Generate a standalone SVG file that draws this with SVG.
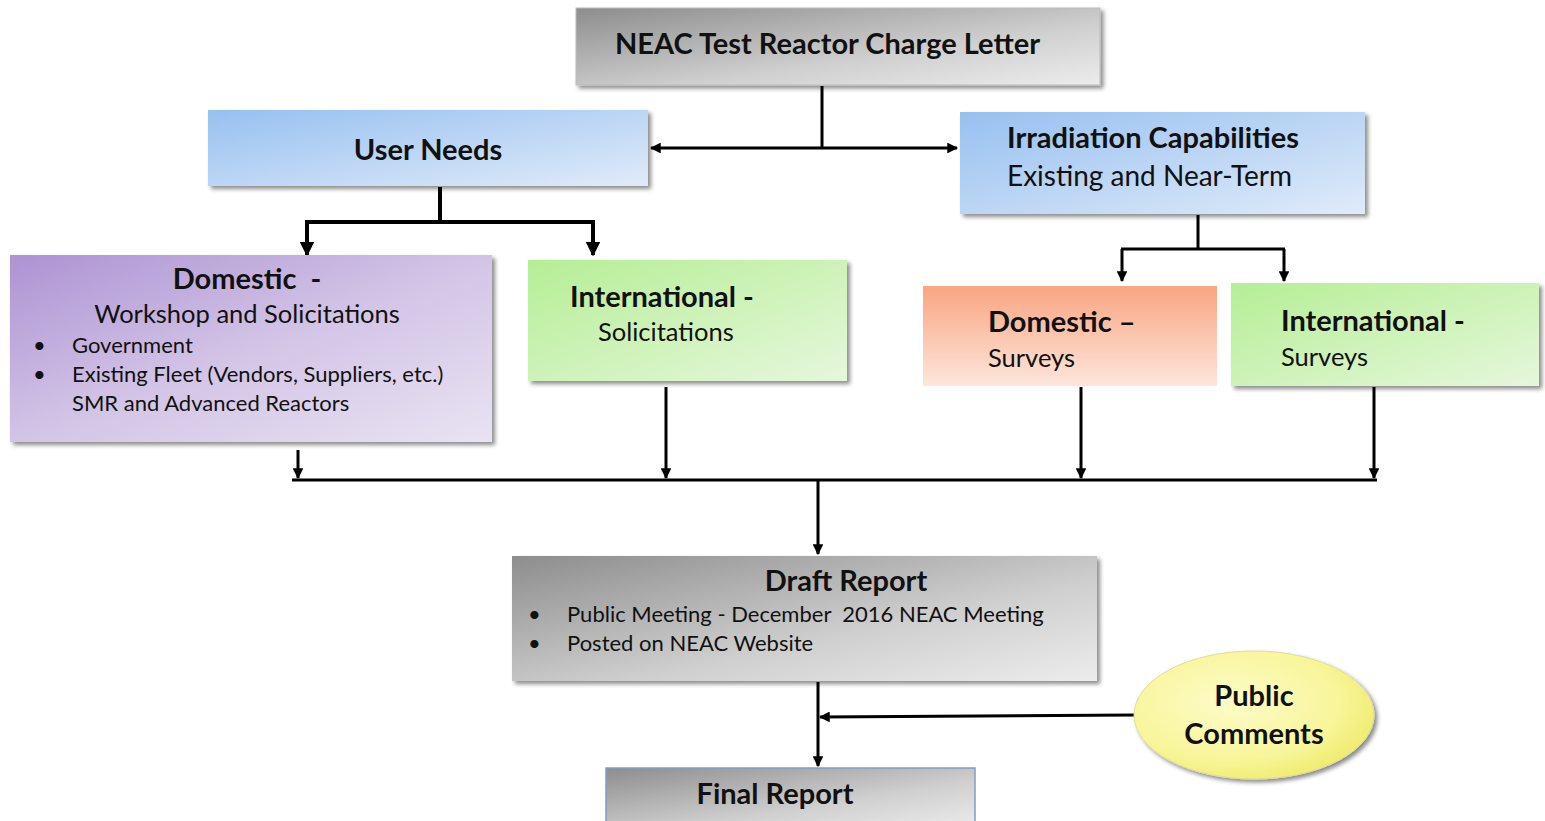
<svg xmlns="http://www.w3.org/2000/svg" width="1545" height="821" viewBox="0 0 1545 821">
<defs>
<linearGradient id="gGray" x1="0" y1="0" x2="1" y2="1"><stop offset="0" stop-color="#8d8d8d"/><stop offset="0.6" stop-color="#cfcfcf"/><stop offset="1" stop-color="#ececec"/></linearGradient>
<linearGradient id="gBlue" x1="0" y1="0" x2="1" y2="1"><stop offset="0" stop-color="#97c0f0"/><stop offset="1" stop-color="#e0ebf9"/></linearGradient>
<linearGradient id="gPurple" x1="0" y1="0" x2="1" y2="1"><stop offset="0" stop-color="#ad92d3"/><stop offset="0.5" stop-color="#d2c4e6"/><stop offset="1" stop-color="#e9e3f2"/></linearGradient>
<linearGradient id="gGreen" x1="0" y1="0" x2="1" y2="1"><stop offset="0" stop-color="#b5ee95"/><stop offset="1" stop-color="#e6f7dc"/></linearGradient>
<linearGradient id="gOrange" x1="0" y1="0" x2="0" y2="1"><stop offset="0" stop-color="#f9a582"/><stop offset="1" stop-color="#fde6dc"/></linearGradient>
<radialGradient id="gYellow" cx="0.4" cy="0.4" r="0.65"><stop offset="0" stop-color="#fdfcc8"/><stop offset="0.7" stop-color="#f8f59a"/><stop offset="1" stop-color="#efec6c"/></radialGradient>
<filter id="sh" x="-10%" y="-10%" width="125%" height="130%"><feDropShadow dx="3" dy="3" stdDeviation="2" flood-color="#000" flood-opacity="0.45"/></filter>
<marker id="ah" viewBox="0 0 10 10" refX="9" refY="5" markerWidth="3.6" markerHeight="3.6" orient="auto-start-reverse"><path d="M0,0 L10,5 L0,10 z" fill="#000"/></marker>
</defs>
<style>
.t{font-family:Lato,"Open Sans","Liberation Sans",sans-serif;fill:#111}
.b{font-weight:bold}
.big{font-size:29px}
.med{font-size:25.5px}
.sm{font-size:22px}
.ln{fill:none;stroke:#000;stroke-width:3}
.lnt{fill:none;stroke:#000;stroke-width:4}
</style>
<g id="connectors">
<path class="ln" d="M822,86 V148"/>
<path class="ln" d="M822,148 H651" marker-end="url(#ah)"/>
<path class="ln" d="M822,148 H957" marker-end="url(#ah)"/>
<path class="lnt" d="M440,187 V222 M305,222 H595"/>
<path class="lnt" d="M307,222 V255" marker-end="url(#ah)"/>
<path class="lnt" d="M593,222 V255" marker-end="url(#ah)"/>
<path class="ln" d="M1198,215 V249 M1121,249 H1285"/>
<path class="ln" d="M1122,249 V281" marker-end="url(#ah)"/>
<path class="ln" d="M1284,249 V281" marker-end="url(#ah)"/>
<path class="ln" d="M292,480 H1377"/>
<path class="ln" d="M298,450 V478" marker-end="url(#ah)"/>
<path class="ln" d="M666,387 V478" marker-end="url(#ah)"/>
<path class="ln" d="M1081,387 V478" marker-end="url(#ah)"/>
<path class="ln" d="M1374,387 V478" marker-end="url(#ah)"/>
<path class="ln" d="M818,480 V554" marker-end="url(#ah)"/>
<path class="ln" d="M818,682 V766" marker-end="url(#ah)"/>
<path class="ln" d="M1134,715 L820,717" marker-end="url(#ah)"/>
</g>
<g id="charge">
<rect x="576" y="8" width="524" height="77" fill="url(#gGray)" stroke="#bbb" stroke-width="1" filter="url(#sh)"/>
<text class="t b big" x="615" y="54">NEAC Test Reactor Charge Letter</text>
</g>
<g id="userneeds">
<rect x="208" y="110" width="440" height="76" fill="url(#gBlue)" filter="url(#sh)"/>
<text class="t b big" x="428" y="160" text-anchor="middle">User Needs</text>
</g>
<g id="irradiation">
<rect x="960" y="112" width="405" height="102" fill="url(#gBlue)" filter="url(#sh)"/>
<text class="t b big" x="1007" y="148">Irradiation Capabilities</text>
<text class="t" x="1007" y="186" font-size="28">Existing and Near-Term</text>
</g>
<g id="domestic">
<rect x="10" y="255" width="482" height="187" fill="url(#gPurple)" filter="url(#sh)"/>
<text class="t b big" x="247" y="289" text-anchor="middle">Domestic&#160; -</text>
<text class="t med" x="247" y="323" text-anchor="middle">Workshop and Solicitations</text>
<text class="t sm" x="33" y="353">•</text>
<text class="t sm" x="72" y="353">Government</text>
<text class="t sm" x="33" y="382">•</text>
<text class="t sm" x="72" y="382">Existing Fleet (Vendors, Suppliers, etc.)</text>
<text class="t sm" x="72" y="411">SMR and Advanced Reactors</text>
</g>
<g id="intlsol">
<rect x="528" y="260" width="319" height="121" fill="url(#gGreen)" filter="url(#sh)"/>
<text class="t b big" x="570" y="307">International -</text>
<text class="t med" x="598" y="341">Solicitations</text>
</g>
<g id="domsurv">
<rect x="923" y="286" width="294" height="100" fill="url(#gOrange)"/>
<text class="t b big" x="988" y="332">Domestic –</text>
<text class="t med" x="988" y="367">Surveys</text>
</g>
<g id="intlsurv">
<rect x="1231" y="283" width="308" height="103" fill="url(#gGreen)" filter="url(#sh)"/>
<text class="t b big" x="1281" y="331">International -</text>
<text class="t med" x="1281" y="366">Surveys</text>
</g>
<g id="draft">
<rect x="512" y="556" width="585" height="125" fill="url(#gGray)" filter="url(#sh)"/>
<text class="t b big" x="846" y="591" text-anchor="middle">Draft Report</text>
<text class="t sm" x="528" y="622">•</text>
<text class="t sm" x="567" y="622">Public Meeting - December&#160; 2016 NEAC Meeting</text>
<text class="t sm" x="528" y="651">•</text>
<text class="t sm" x="567" y="651">Posted on NEAC Website</text>
</g>
<g id="comments">
<ellipse cx="1254" cy="715" rx="120" ry="64" fill="url(#gYellow)" stroke="#e0dc9a" stroke-width="1" filter="url(#sh)"/>
<text class="t b big" x="1254" y="706" text-anchor="middle">Public</text>
<text class="t b big" x="1254" y="744" text-anchor="middle">Comments</text>
</g>
<g id="final">
<rect x="606" y="768" width="369" height="60" fill="url(#gGray)" stroke="#7f9fc0" stroke-width="1.5"/>
<text class="t b big" x="775" y="804" text-anchor="middle">Final Report</text>
</g>
</svg>
